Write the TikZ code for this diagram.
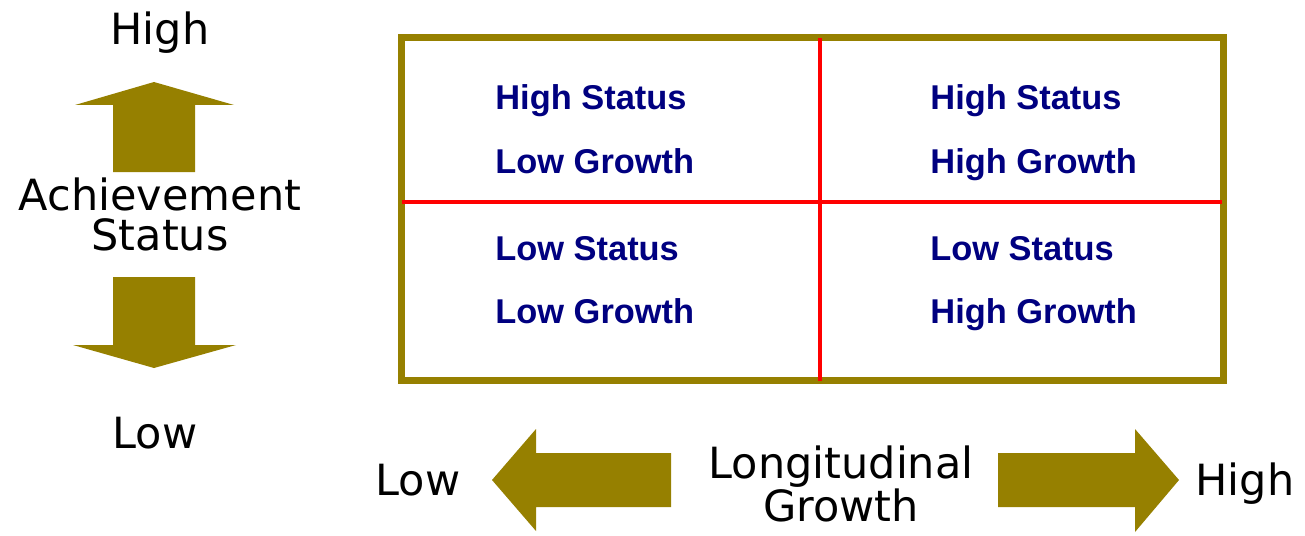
\documentclass[tikz,border=0pt]{standalone}
\usepackage{fontspec}
\setmainfont{DejaVu Sans}
\newfontfamily\cellfont{Liberation Sans}
\usepackage{xcolor}
\usepackage{tikz}

\definecolor{gridolive}{RGB}{150,128,0}
\definecolor{cellnavy}{RGB}{0,0,128}

\tikzset{
  axislabel/.style={font=\fontsize{21.5}{20}\selectfont, inner sep=0pt, align=center},
  celltext/.style={font=\cellfont\bfseries\fontsize{17.2}{20}\selectfont, text=cellnavy, anchor=base west, inner sep=0pt},
  blockarrow/.style={fill=gridolive, draw=none}
}

\begin{document}
\begin{tikzpicture}[x=0.5pt, y=-0.5pt]
        \useasboundingbox (0,0) rectangle (1305,535);

        % quadrant frame
        \draw[gridolive, line width=3.5pt] (401,37.5) rectangle (1223,380.5);
        \draw[red, line width=2.2pt] (820,38) -- (820,381);
        \draw[red, line width=2.2pt] (402,202) -- (1222,202);

        % cell texts
        \node[celltext] (HSa) at (495,110) {High Status};
        \node[celltext] (LGa) at (495,173) {Low Growth};
        \node[celltext] (HSb) at (930,110) {High Status};
        \node[celltext] (HGb) at (930,173) {High Growth};
        \node[celltext] (LSc) at (495,260) {Low Status};
        \node[celltext] (LGc) at (495,323) {Low Growth};
        \node[celltext] (LSd) at (930,260) {Low Status};
        \node[celltext] (HGd) at (930,323) {High Growth};

        % vertical axis
        \node[axislabel, anchor=base] (StatHigh) at (160,45) {High};
        \node[axislabel] (Status) at (160,214) {Achievement\\Status};
        \node[axislabel, anchor=base] (StatLow) at (155,448) {Low};
        \fill[blockarrow] (113,172) -- (113,105) -- (75,105) -- (154,82) -- (234,105) -- (195,105) -- (195,172) -- cycle;
        \fill[blockarrow] (113,277) -- (195,277) -- (195,345) -- (236,345) -- (154,368) -- (73,345) -- (113,345) -- cycle;

        % horizontal axis
        \node[axislabel, anchor=base] (GrowLow) at (418,495) {Low};
        \node[axislabel] (Growth) at (841,484) {Longitudinal\\Growth};
        \node[axislabel, anchor=base] (GrowHigh) at (1245,495) {High};
        \fill[blockarrow] (671,453) -- (536,453) -- (536,429) -- (492,480) -- (536,531) -- (536,507) -- (671,507) -- cycle;
        \fill[blockarrow] (998,453) -- (1135,453) -- (1135,429) -- (1179,480) -- (1135,532) -- (1135,507) -- (998,507) -- cycle;
    \end{tikzpicture}
\end{document}
